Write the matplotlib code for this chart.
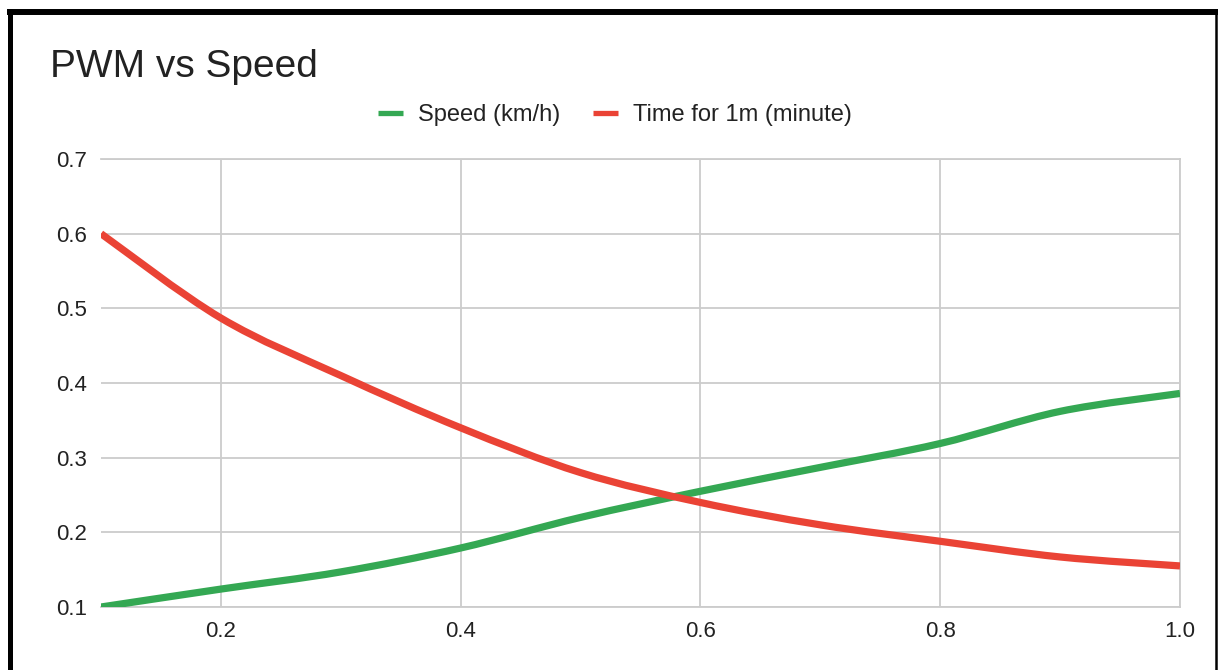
import matplotlib.pyplot as plt
import numpy as np
from matplotlib.lines import Line2D
from matplotlib.patches import PathPatch
from matplotlib.path import Path

plt.rcParams["font.family"] = ["Liberation Sans", "DejaVu Sans"]

pwm = [0.1, 0.2, 0.3, 0.4, 0.5, 0.6, 0.7, 0.8, 0.9, 1.0]
speed = [0.100, 0.124, 0.147, 0.179, 0.220, 0.255, 0.287, 0.319, 0.362, 0.386]
time_1m = [0.600, 0.487, 0.410, 0.340, 0.280, 0.240, 0.210, 0.188, 0.167, 0.155]

series_labels = ["Speed (km/h)", "Time for 1m (minute)"]
series_colors = ["#34a853", "#ea4335"]
xticks = [0.2, 0.4, 0.6, 0.8, 1.0]
yticks = [0.1, 0.2, 0.3, 0.4, 0.5, 0.6, 0.7]

W, H = 1219, 670
GRID = "#cccccc"


def smooth_path(x, y):
    # catmull-rom through the points, drawn as cubic bezier segments
    pts = np.column_stack([x, y]).astype(float)
    padded = np.vstack([pts[0], pts, pts[-1]])
    verts = [pts[0]]
    codes = [Path.MOVETO]
    for i in range(len(pts) - 1):
        p0, p1, p2, p3 = padded[i], padded[i + 1], padded[i + 2], padded[i + 3]
        verts += [p1 + (p2 - p0) / 6, p2 - (p3 - p1) / 6, p2]
        codes += [Path.CURVE4] * 3
    return Path(verts, codes)


fig = plt.figure(figsize=(W / 100, H / 100), dpi=100)
ax = fig.add_axes([101 / W, 1 - 607 / H, (1180 - 101) / W, (607 - 159) / H])

for vals, color in zip([speed, time_1m], series_colors):
    patch = PathPatch(
        smooth_path(pwm, vals),
        facecolor="none",
        edgecolor=color,
        linewidth=5.2,
        capstyle="butt",
        joinstyle="round",
        zorder=3,
    )
    ax.add_patch(patch)

ax.set_xlim(0.1, 1.0)
ax.set_ylim(0.1, 0.7)
ax.set_xticks(xticks)
ax.set_xticklabels([f"{t:.1f}" for t in xticks])
ax.set_yticks(yticks)
ax.set_yticklabels([f"{t:.1f}" for t in yticks])
ax.tick_params(length=0, labelsize=16, labelcolor="#222222")
ax.tick_params(axis="y", pad=10)
ax.tick_params(axis="x", pad=10)
ax.grid(True, color=GRID, linewidth=1.3)
ax.set_axisbelow(True)
for side in ["left", "top", "bottom"]:
    ax.spines[side].set_visible(False)
ax.spines["right"].set_color(GRID)
ax.spines["right"].set_linewidth(1.3)
# horizontal gridlines at the edges
ax.axhline(0.7, color=GRID, linewidth=1.3, zorder=0.5, clip_on=False)
ax.axhline(0.1, color=GRID, linewidth=1.3, zorder=0.5, clip_on=False)

fig.text(50 / W, 1 - 77 / H, "PWM vs Speed", fontsize=28, color="#222222",
         ha="left", va="baseline")

handles = [Line2D([], [], color=c, linewidth=3.8, solid_capstyle="butt")
           for c in series_colors]
fig.legend(
    handles,
    series_labels,
    loc="center",
    bbox_to_anchor=(615 / W, 1 - 115 / H),
    ncol=2,
    frameon=False,
    fontsize=17,
    handlelength=1.05,
    handletextpad=0.65,
    columnspacing=1.4,
    labelcolor="#222222",
)

# black frame around the chart (no bottom edge)
frame = dict(color="black", solid_capstyle="butt", transform=fig.transFigure)
fig.add_artist(Line2D([9.5 / W, 9.5 / W], [0, 1 - 9 / H], linewidth=3.6, **frame))
fig.add_artist(Line2D([7 / W, 1217.5 / W], [1 - 12 / H, 1 - 12 / H], linewidth=4.3, **frame))
fig.add_artist(Line2D([1216 / W, 1216 / W], [0, 1 - 9 / H], linewidth=1.8, **frame))

fig.savefig("out.png", dpi=100)
